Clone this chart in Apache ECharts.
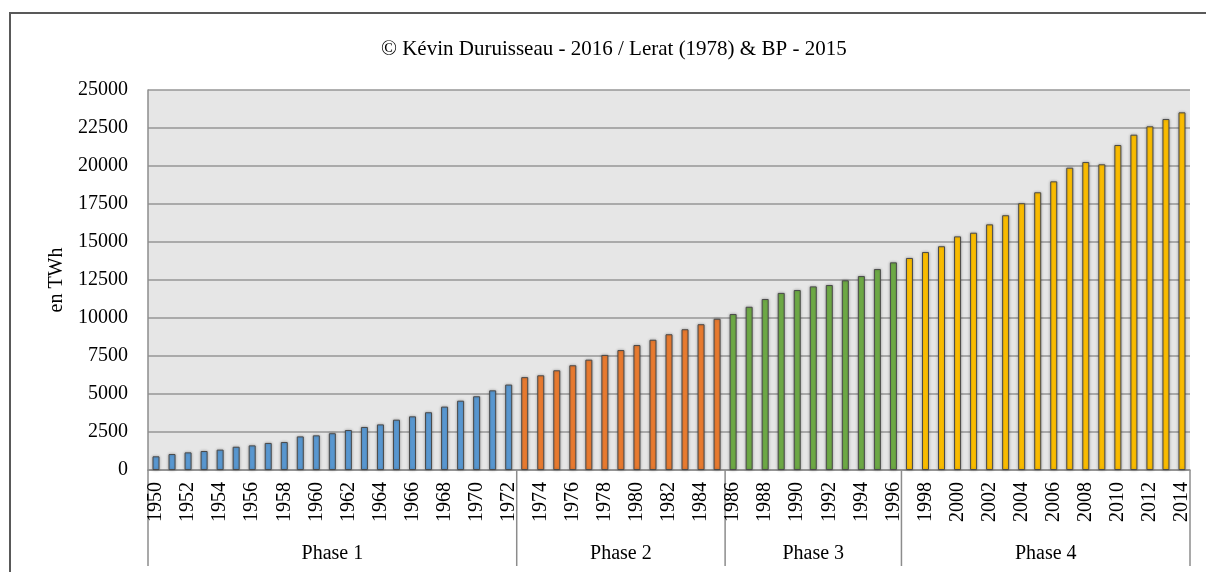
<!DOCTYPE html>
<html>
<head>
<meta charset="utf-8">
<script src="https://cdn.jsdelivr.net/npm/echarts@6/dist/echarts.min.js"></script>
<style>
html,body{margin:0;padding:0;background:#ffffff;}
#c{width:1206px;height:572px;}
</style>
</head>
<body>
<div id="c"></div>
<script>
// ---- Data ----
const titleText = '\u00A9 K\u00E9vin Duruisseau - 2016 / Lerat (1978) & BP - 2015';
const yAxisName = 'en TWh';
const years = [];
for (let y = 1950; y <= 2014; y++) years.push(String(y));
const values = [
  900, 1050, 1160, 1250, 1340, 1530, 1620, 1780, 1840, 2210,        // 1950-1959
  2280, 2420, 2630, 2830, 3000, 3310, 3530, 3800, 4170, 4560,       // 1960-1969
  4850, 5240, 5620, 6110, 6230, 6560, 6890, 7260, 7570, 7890,       // 1970-1979
  8220, 8570, 8930, 9260, 9590, 9950, 10260, 10740, 11250, 11650,   // 1980-1989
  11840, 12080, 12170, 12480, 12760, 13220, 13660, 13950, 14340, 14720, // 1990-1999
  15370, 15610, 16160, 16760, 17550, 18270, 18990, 19890, 20260, 20110, // 2000-2009
  21380, 22060, 22610, 23090, 23530                                  // 2010-2014
];
const phaseNames = ['Phase 1', 'Phase 2', 'Phase 3', 'Phase 4'];
const phaseCounts = [23, 13, 11, 18];
const phaseColors = ['#5B9BD5', '#ED7D31', '#70AD47', '#FFC000'];
const yMin = 0, yMax = 25000, yStep = 2500;

// ---- Chart ----
const FONT = '"Liberation Serif", "Times New Roman", serif';
const phaseOfIndex = [];
phaseCounts.forEach((n, p) => { for (let i = 0; i < n; i++) phaseOfIndex.push(p); });

const chart = echarts.init(document.getElementById('c'), null, {renderer: 'canvas'});
const option = {
  animation: false,
  backgroundColor: '#ffffff',
  title: {
    text: titleText, left: 376, top: 34,
    textStyle: {fontFamily: FONT, fontSize: 21, fontWeight: 'normal', color: '#000'}
  },
  grid: {
    left: 148, right: 16, top: 90, bottom: 102,
    show: true, backgroundColor: '#E6E6E6', borderWidth: 0
  },
  xAxis: {
    type: 'category', data: years,
    axisLine: {lineStyle: {color: '#8c8c8c', width: 1.5}},
    axisTick: {show: false},
    axisLabel: {rotate: 90, interval: 1, margin: 12, fontFamily: FONT, fontSize: 20, color: '#000'}
  },
  yAxis: {
    type: 'value', min: yMin, max: yMax, interval: yStep,
    name: yAxisName, nameLocation: 'middle', nameGap: 81,
    nameTextStyle: {fontFamily: FONT, fontSize: 20, color: '#000'},
    axisLine: {show: true, lineStyle: {color: '#8c8c8c', width: 1.5}},
    axisTick: {show: false},
    splitLine: {lineStyle: {color: '#969696', width: 1.5}},
    axisLabel: {margin: 20, fontFamily: FONT, fontSize: 20, color: '#000',
      formatter: v => String(v)}
  },
  series: [{
    type: 'bar',
    barWidth: 7,
    data: values.map((v, i) => ({value: v, itemStyle: {color: phaseColors[phaseOfIndex[i]]}})),
    itemStyle: {borderColor: '#4a4a4a', borderWidth: 1, shadowColor: 'rgba(0,0,0,0.3)', shadowBlur: 3}
  }]
};
chart.setOption(option);

// Phase separators and labels from the axis scale
const x0 = chart.convertToPixel({xAxisIndex: 0}, 0);
const x1 = chart.convertToPixel({xAxisIndex: 0}, 1);
const bw = x1 - x0;
const yAxisPix = chart.convertToPixel({yAxisIndex: 0}, 0);
const graphics = [];
let start = 0;
const bounds = [];
phaseCounts.forEach((n) => { bounds.push(start); start += n; });
bounds.push(start);
const bx = bounds.map(i => x0 + (i - 0.5) * bw);
bx.forEach(x => {
  graphics.push({type: 'line', shape: {x1: x, y1: yAxisPix, x2: x, y2: 566},
    style: {stroke: '#8c8c8c', lineWidth: 1.5}, silent: true});
});
phaseNames.forEach((nm, p) => {
  graphics.push({type: 'text', x: (bx[p] + bx[p + 1]) / 2, y: 554,
    style: {text: nm, font: '20px ' + FONT, fill: '#000', align: 'center', verticalAlign: 'middle'}, silent: true});
});
graphics.push({type: 'rect', shape: {x: 10, y: 13, width: 1220, height: 600},
  style: {fill: 'none', stroke: '#595959', lineWidth: 2}, silent: true, z: 100});
chart.setOption({graphic: graphics});
</script>
</body>
</html>
